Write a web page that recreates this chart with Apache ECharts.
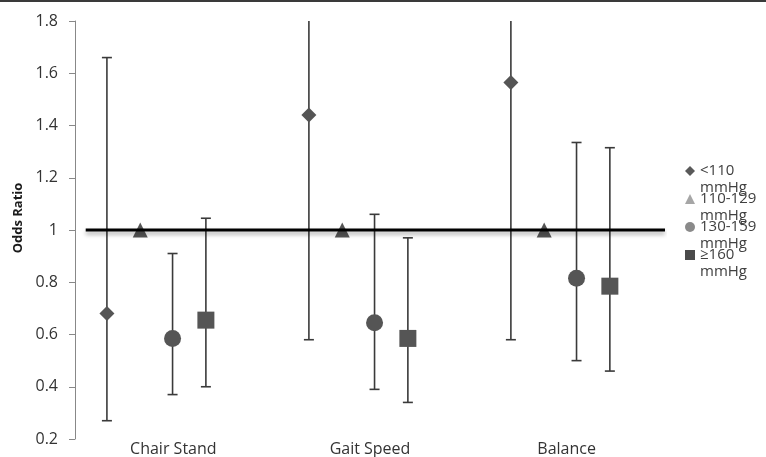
<!DOCTYPE html>
<html>
<head>
<meta charset="utf-8">
<script src="https://cdn.jsdelivr.net/npm/echarts@6/dist/echarts.min.js"></script>
<style>
  html, body { margin: 0; padding: 0; background: #fff; }
  #chart { width: 766px; height: 457px; }
</style>
</head>
<body>
<div id="chart"></div>
<script>
// categories and groups
var tests = ['Chair Stand', 'Gait Speed', 'Balance'];
var groups = ['<110 mmHg', '110-129 mmHg', '130-159 mmHg', '≥160 mmHg'];

// odds ratios per group, one value per test
var orLow110 = [0.68, 1.44, 1.565];
var or110129 = [1, 1, 1];
var or130159 = [0.585, 0.645, 0.815];
var orHigh160 = [0.655, 0.585, 0.785];

// 95% CI lower / upper (110-129 is the reference, no CI)
var ciLow = {
  '<110 mmHg': [0.27, 0.58, 0.58],
  '130-159 mmHg': [0.37, 0.39, 0.50],
  '≥160 mmHg': [0.40, 0.34, 0.46]
};
var ciHigh = {
  '<110 mmHg': [1.66, 3.5, 4.2],
  '130-159 mmHg': [0.91, 1.06, 1.335],
  '≥160 mmHg': [1.045, 0.97, 1.315]
};

var refValue = [1, 1];

// look
var offsets = [-0.245, -0.08, 0.08, 0.245];
var symbols = ['diamond', 'triangle', 'circle', 'rect'];
var sizes = [15, 15, 17, 17];
var legendColors = ['#595959', '#a6a6a6', '#8a8a8a', '#4a4a4a'];
var markColor = '#555555';
var font = '"Open Sans", "Liberation Sans", sans-serif';

var values = [orLow110, or110129, or130159, orHigh160];

function initChart() {
  var chartDom = document.getElementById('chart');
  var myChart = echarts.init(chartDom);
  var series = [];

  groups.forEach(function (g, gi) {
    var pts = values[gi].map(function (v, i) {
      return { value: [i + 1 + offsets[gi], v], itemStyle: { color: markColor } };
    });
    if (ciLow[g]) {
      var bars = ciLow[g].map(function (lo, i) {
        return [i + 1 + offsets[gi], lo, ciHigh[g][i]];
      });
      series.push({
        name: g + ' CI',
        type: 'custom',
        xAxisIndex: 0,
        clip: true,
        z: 2,
        silent: true,
        data: bars,
        renderItem: function (params, api) {
          var x = api.value(0);
          var lo = api.coord([x, api.value(1)]);
          var hi = api.coord([x, api.value(2)]);
          var cap = 5;
          var st = { stroke: '#3a3a3a', lineWidth: 1.6 };
          return {
            type: 'group',
            children: [
              { type: 'line', shape: { x1: lo[0], y1: lo[1], x2: hi[0], y2: hi[1] }, style: st },
              { type: 'line', shape: { x1: lo[0] - cap, y1: lo[1], x2: lo[0] + cap, y2: lo[1] }, style: st },
              { type: 'line', shape: { x1: hi[0] - cap, y1: hi[1], x2: hi[0] + cap, y2: hi[1] }, style: st }
            ]
          };
        }
      });
    }
    series.push({
      name: g,
      type: 'scatter',
      xAxisIndex: 0,
      symbol: symbols[gi],
      symbolSize: sizes[gi],
      itemStyle: { color: legendColors[gi], opacity: 1 },
      z: 3,
      data: pts
    });
  });

  // reference line at OR = 1
  series.push({
    name: 'ref',
    type: 'line',
    xAxisIndex: 0,
    symbol: 'none',
    silent: true,
    z: 4,
    lineStyle: {
      color: '#000',
      width: 3,
      shadowColor: 'rgba(0,0,0,0.35)',
      shadowBlur: 4,
      shadowOffsetY: 3
    },
    data: [[0.65, refValue[0]], [3.518, refValue[1]]]
  });

  var option = {
    animation: false,
    backgroundColor: '#fff',
    graphic: [{
      type: 'rect',
      shape: { x: 0, y: 0, width: 766, height: 2 },
      style: { fill: '#3a3a3a' }
    }],
    grid: { left: 75, right: 101, top: 21, bottom: 17.5 },
    legend: {
      orient: 'vertical',
      left: 680,
      top: 140.5,
      itemWidth: 10,
      itemHeight: 10,
      itemGap: -23,
      data: groups.map(function (g, gi) {
        return { name: g, icon: symbols[gi], itemStyle: { color: legendColors[gi] } };
      }),
      // blank first line keeps the icon level with the first text line
      formatter: function (name) { return '\n' + name.replace(' ', '\n'); },
      textStyle: {
        fontFamily: font,
        fontSize: 15,
        color: '#404040',
        lineHeight: 17
      }
    },
    xAxis: [
      {
        type: 'value',
        min: 0.597,
        max: 3.518,
        show: false
      },
      {
        type: 'category',
        data: tests,
        position: 'bottom',
        axisLine: { show: false },
        axisTick: { show: false },
        axisLabel: {
          fontFamily: font,
          fontSize: 16,
          color: '#333',
          margin: 2
        }
      }
    ],
    yAxis: {
      type: 'value',
      min: 0.2,
      max: 1.8,
      interval: 0.2,
      name: 'Odds Ratio',
      nameLocation: 'middle',
      nameGap: 50,
      nameTextStyle: {
        fontFamily: font,
        fontSize: 13,
        fontWeight: 'bold',
        color: '#1a1a1a',
        padding: [0, 0, 0, 24]
      },
      axisLine: { show: true, lineStyle: { color: '#888', width: 1 } },
      axisTick: { show: true, length: 6, lineStyle: { color: '#888' } },
      splitLine: { show: false },
      axisLabel: {
        fontFamily: font,
        fontSize: 16,
        color: '#333',
        margin: 17
      }
    },
    series: series
  };
  myChart.setOption(option);
}

document.addEventListener('DOMContentLoaded', function () {
  initChart();
});
</script>
</body>
</html>
